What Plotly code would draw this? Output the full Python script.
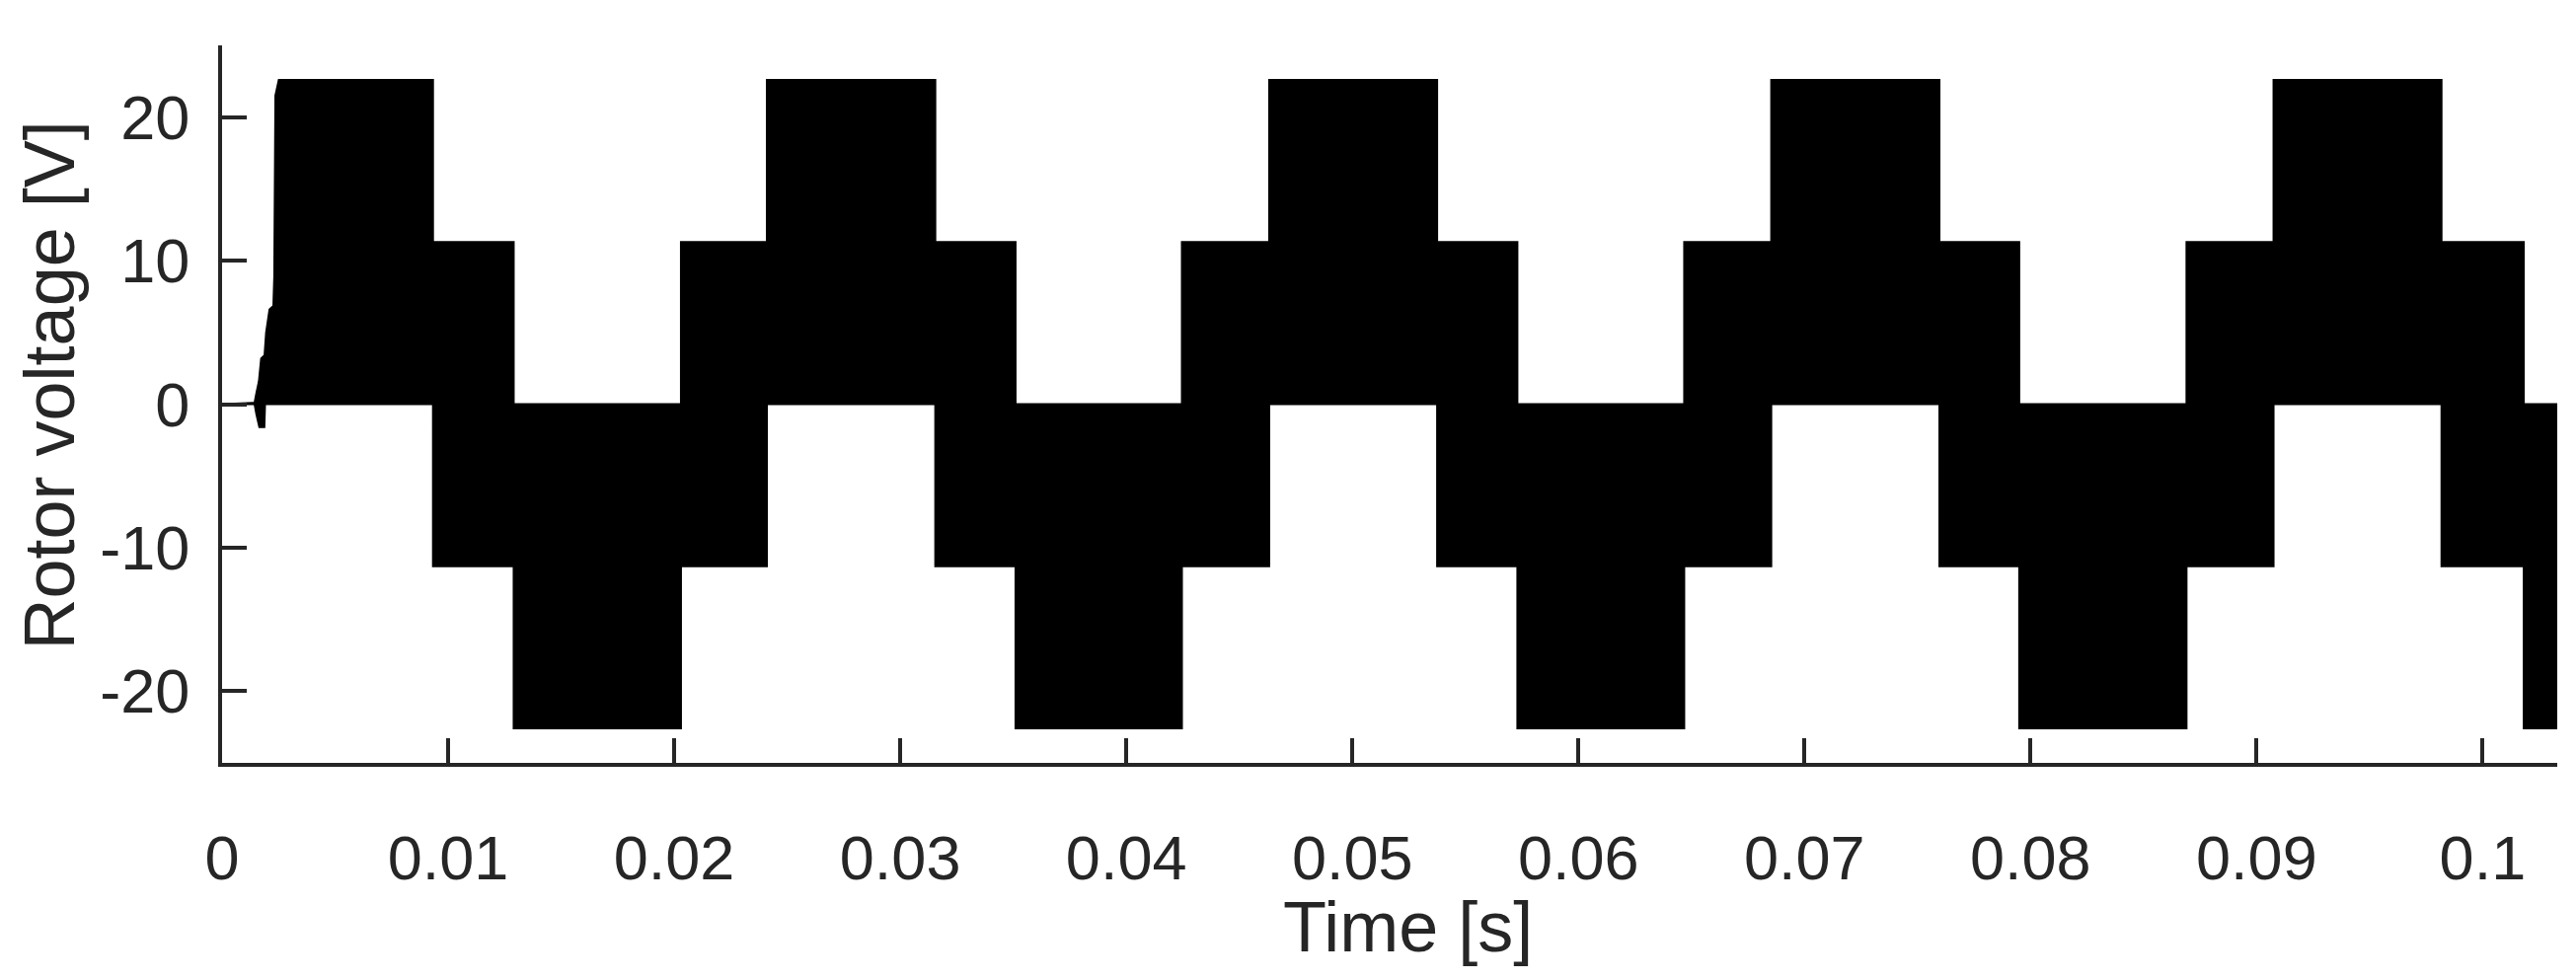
import plotly.graph_objects as go

# start-up transient
startup_t_upper = [0.0, 0.00144, 0.00152, 0.00163, 0.00173, 0.00188, 0.00195, 0.0021, 0.00227, 0.00231, 0.00236, 0.00251]
startup_v_upper = [0.0, 0.1, 0.78, 1.58, 3.18, 3.41, 5.0, 6.6, 6.84, 8.9, 21.5, 22.6]
startup_t_lower = [0.0, 0.00144, 0.00152, 0.00165, 0.00187, 0.0019, 0.00251]
startup_v_lower = [0.0, 0.0, -0.7, -1.6, -1.6, 0.0, 0.0]

# switching envelope: level changes of the six-step rotor voltage
step_times = [0.00933, 0.0129, 0.0203, 0.0241, 0.03155, 0.0351, 0.04246, 0.04632, 0.05375,
              0.0573, 0.06468, 0.06853, 0.07597, 0.0795, 0.0869, 0.09075, 0.09818, 0.10182]
upper_levels = [22.6, 11.3, 0.0, 11.3, 22.6, 11.3, 0.0, 11.3, 22.6, 11.3,
                0.0, 11.3, 22.6, 11.3, 0.0, 11.3, 22.6, 11.3, 0.0]
lower_levels = [0.0, -11.3, -22.6, -11.3, 0.0, -11.3, -22.6, -11.3, 0.0, -11.3,
                -22.6, -11.3, 0.0, -11.3, -22.6, -11.3, 0.0, -11.3, -22.6]
t_end = 0.1033

x_ticks = [0, 0.01, 0.02, 0.03, 0.04, 0.05, 0.06, 0.07, 0.08, 0.09, 0.1]
x_ticktext = ["0", "0.01", "0.02", "0.03", "0.04", "0.05", "0.06", "0.07", "0.08", "0.09", "0.1"]
y_ticks = [-20, -10, 0, 10, 20]
y_ticktext = ["-20", "-10", "0", "10", "20"]

INK = "#262626"
FONT = "Liberation Sans, Arial, sans-serif"


def envelope(t0, v0, levels):
    t, v = list(t0), list(v0)
    edges = [t0[-1]] + step_times + [t_end]
    for i, lev in enumerate(levels):
        t += [edges[i], edges[i + 1]]
        v += [lev, lev]
    return t, v


tl, vl = envelope(startup_t_lower, startup_v_lower, lower_levels)
tu, vu = envelope(startup_t_upper, startup_v_upper, upper_levels)

fig = go.Figure()
fig.add_trace(go.Scatter(x=tl, y=vl, mode="lines", line=dict(color="black", width=2), showlegend=False))
fig.add_trace(go.Scatter(x=tu, y=vu, mode="lines", line=dict(color="black", width=2),
                         fill="tonexty", fillcolor="black", showlegend=False))

axis_common = dict(
    showline=True, linewidth=4, linecolor=INK, mirror=False,
    ticks="inside", ticklen=25, tickwidth=4, tickcolor=INK,
    showgrid=False, zeroline=False,
    tickfont=dict(family=FONT, size=63, color=INK),
)
fig.update_xaxes(range=[0, t_end], tickvals=x_ticks, ticktext=x_ticktext, ticklabelstandoff=38, **axis_common)
fig.update_yaxes(range=[-25, 25], tickvals=y_ticks, ticktext=y_ticktext, ticklabelstandoff=16, **axis_common)

fig.add_annotation(text="Time [s]", xref="paper", yref="paper", x=0.508, y=-0.228,
                   xanchor="center", yanchor="middle", showarrow=False,
                   font=dict(family=FONT, size=72, color=INK))
fig.add_annotation(text="Rotor voltage [V]", xref="paper", yref="paper", x=-0.074, y=0.526,
                   xanchor="center", yanchor="middle", textangle=-90, showarrow=False,
                   font=dict(family=FONT, size=72, color=INK))

# page body adds an 8 px offset, so margins are shifted to compensate
fig.update_layout(
    width=2610, height=993,
    margin=dict(l=217, r=27, t=38, b=228),
    plot_bgcolor="white", paper_bgcolor="white",
)
fig.write_html("out.html")
